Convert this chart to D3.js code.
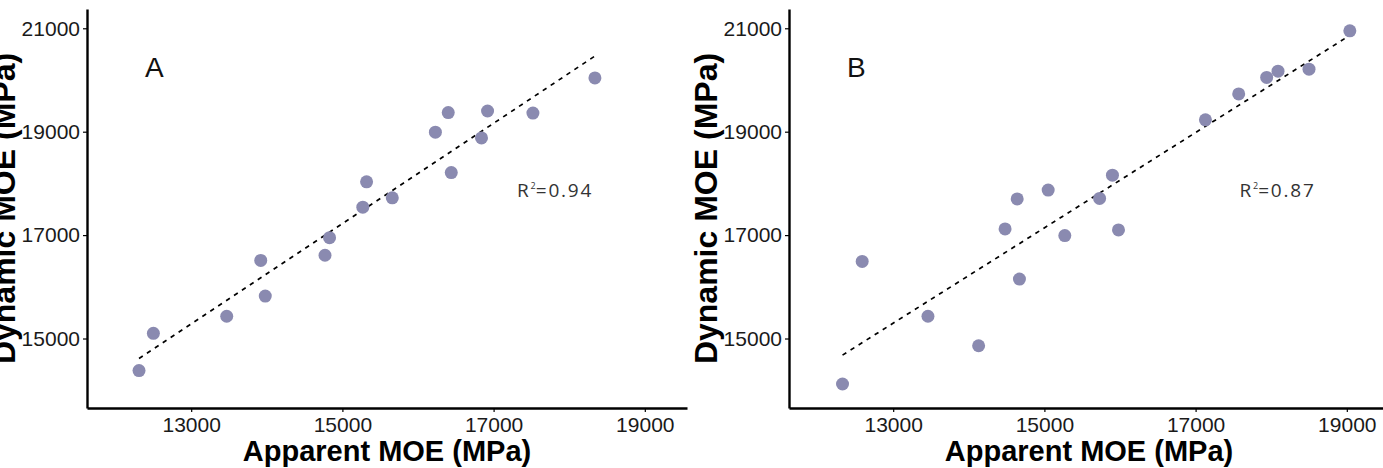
<!DOCTYPE html>
<html>
<head>
<meta charset="utf-8">
<script src="https://cdn.jsdelivr.net/npm/d3@7"></script>
<style>
  body { margin: 0; background: #fff; }
  svg { display: block; }
  .axis .domain { stroke: #000; stroke-width: 2.4; }
  .axis .tick line { stroke: #000; stroke-width: 1.2; }
  .axis text { font-family: "Liberation Sans", Arial, sans-serif; font-size: 21px; fill: #1a1a1a; }
  .title { font-family: "Liberation Sans", Arial, sans-serif; font-weight: bold; fill: #000; }
</style>
</head>
<body>
<script>
// panel A
var apparentA = [12310, 12500, 13470, 13920, 13980, 14770, 14830, 15270, 15320, 15660, 16230, 16400, 16440, 16840, 16920, 17520, 18340];
var dynamicA  = [14380, 15100, 15430, 16510, 15820, 16610, 16950, 17540, 18030, 17720, 18990, 19370, 18210, 18880, 19400, 19360, 20040];
// panel B
var apparentB = [12330, 12590, 13460, 14130, 14480, 14640, 14670, 15050, 15270, 15730, 15900, 15980, 17130, 17570, 17940, 18090, 18500, 19040];
var dynamicB  = [14120, 16490, 15430, 14860, 17120, 17700, 16150, 17870, 16990, 17710, 18160, 17100, 19230, 19730, 20050, 20170, 20210, 20950];

var panelLabels = ["A", "B"];
var r2Labels = ["0.94", "0.87"];
var xTicks = [13000, 15000, 17000, 19000];
var yTicks = [15000, 17000, 19000, 21000];

var W = 1383, H = 468;
var margin = {top: 9, left: 87},
    width = 600,
    height = 399;

var svg = d3.select("body").append("svg")
    .attr("width", W)
    .attr("height", H);

var x = d3.scaleLinear().domain([11622, 19558]).range([0, width]);
var y = d3.scaleLinear().domain([13656, 21373]).range([height, 0]);

var panels = [
  {label: panelLabels[0], r2: r2Labels[0], xs: apparentA, ys: dynamicA, left: 87,  r2x: 17310},
  {label: panelLabels[1], r2: r2Labels[1], xs: apparentB, ys: dynamicB, left: 789, r2x: 17580}
];

panels.forEach(function(p) {
  var g = svg.append("g")
      .attr("transform", "translate(" + p.left + "," + margin.top + ")");

  var pts = p.xs.map(function(d, i) { return {x: d, y: p.ys[i]}; });

  // least squares fit
  var mx = d3.mean(p.xs), my = d3.mean(p.ys);
  var sxy = d3.sum(pts, function(d) { return (d.x - mx) * (d.y - my); });
  var sxx = d3.sum(pts, function(d) { return (d.x - mx) * (d.x - mx); });
  var slope = sxy / sxx, icpt = my - slope * mx;
  var ext = d3.extent(p.xs);
  var fit = ext.map(function(v) { return {x: v, y: icpt + slope * v}; });

  g.append("path")
      .datum(fit)
      .attr("fill", "none")
      .attr("stroke", "#000")
      .attr("stroke-width", 1.7)
      .attr("stroke-dasharray", "4.5,5")
      .attr("d", d3.line().x(function(d) { return x(d.x); }).y(function(d) { return y(d.y); }));

  g.selectAll(".point")
      .data(pts)
      .enter().append("circle")
      .attr("class", "point")
      .attr("cx", function(d) { return x(d.x); })
      .attr("cy", function(d) { return y(d.y); })
      .attr("r", 6.5)
      .attr("fill", "#8a8ab0");

  g.append("g")
      .attr("class", "axis")
      .attr("transform", "translate(0," + height + ")")
      .call(d3.axisBottom(x).tickValues(xTicks).tickFormat(d3.format("d")).tickSize(4).tickSizeOuter(0).tickPadding(5));

  g.append("g")
      .attr("class", "axis")
      .call(d3.axisLeft(y).tickValues(yTicks).tickFormat(d3.format("d")).tickSize(4).tickSizeOuter(0).tickPadding(3));

  g.append("text")
      .attr("x", 58)
      .attr("y", 68)
      .style("font-family", "'Liberation Sans', Arial, sans-serif")
      .style("font-size", "28px")
      .attr("fill", "#111")
      .text(p.label);

  var r2 = g.append("text")
      .attr("x", x(p.r2x))
      .attr("y", 188)
      .style("font-family", "'Open Sans', sans-serif")
      .style("font-size", "19px")
      .style("letter-spacing", "1.8px")
      .attr("fill", "#333");
  r2.append("tspan").text("R");
  r2.append("tspan").attr("dy", -8).style("font-size", "9px").style("letter-spacing", "0px").text("2");
  r2.append("tspan").attr("dy", 8).text("=" + p.r2);

  g.append("text")
      .attr("class", "title")
      .attr("x", width / 2)
      .attr("y", 452)
      .attr("text-anchor", "middle")
      .style("font-size", "29px")
      .text("Apparent MOE (MPa)");

  g.append("text")
      .attr("class", "title")
      .attr("transform", "translate(-72," + (height / 2) + ") rotate(-90)")
      .attr("text-anchor", "middle")
      .style("font-size", "32px")
      .text("Dynamic MOE (MPa)");
});
</script>
</body>
</html>
